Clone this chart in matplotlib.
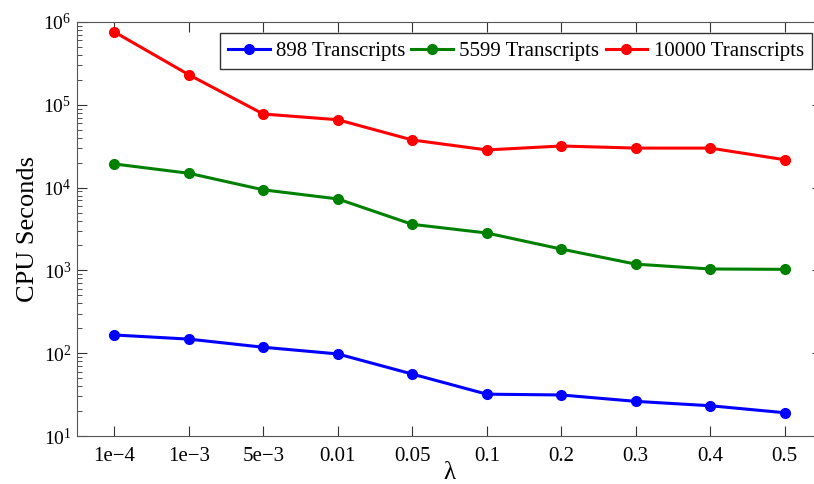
import numpy as np
import matplotlib
matplotlib.use("Agg")
import matplotlib.pyplot as plt
from matplotlib.ticker import LogLocator, NullFormatter

plt.rcParams['font.family'] = ['Liberation Serif', 'DejaVu Serif']
plt.rcParams['mathtext.fontset'] = 'stix'

# lambda values on the x axis (evenly spaced categories)
lambdas = ['1e\u22124', '1e\u22123', '5e\u22123', '0.01', '0.05', '0.1', '0.2', '0.3', '0.4', '0.5']

# CPU seconds for each transcript set
t898 = [166, 148, 118, 98, 56, 32, 31.3, 26.2, 23.2, 19.1]
t5599 = [19300, 14900, 9400, 7300, 3600, 2830, 1810, 1190, 1040, 1030]
t10000 = [760000, 231000, 77400, 66000, 37600, 28500, 31800, 30000, 30000, 21700]

x = np.arange(len(lambdas))

W, H = 814, 484
fig = plt.figure(figsize=(W/100, H/100), dpi=100)
# axes run a little past the right edge of the figure
ax = fig.add_axes([77/W, 1-436/H, (822-77)/W, (436-22)/H])

ax.semilogy(x, t898, '-o', color='#0000ff', lw=2.2, ms=7, label='898 Transcripts')
ax.semilogy(x, t5599, '-o', color='#008000', lw=2.2, ms=7, label='5599 Transcripts')
ax.semilogy(x, t10000, '-o', color='#ff0000', lw=2.2, ms=7, label='10000 Transcripts')

ax.set_ylim(10, 1e6)
ax.set_xlim(-0.5, 9.5)
ax.set_xticks(x)
ax.set_xticklabels(lambdas)
ax.yaxis.set_major_locator(LogLocator(base=10, numticks=10))
ax.yaxis.set_minor_locator(LogLocator(base=10, subs=np.arange(2, 10), numticks=20))
ax.yaxis.set_minor_formatter(NullFormatter())

ax.tick_params(which='both', direction='in', top=True, right=True, colors='#333333')
ax.tick_params(which='major', length=7, labelcolor='black')
ax.tick_params(which='minor', length=3.5)
ax.tick_params(axis='x', labelsize=15, pad=8)
ax.tick_params(axis='y', labelsize=14, pad=4)
for s in ax.spines.values():
    s.set_color('#555555')

ax.set_xlabel('\u03bb', fontsize=18, labelpad=-3)
ax.set_ylabel('CPU Seconds', fontsize=19, labelpad=3)

leg = ax.legend(loc='upper right', bbox_to_anchor=(812/W, 1-33/H), bbox_transform=fig.transFigure,
                ncol=3, fontsize=15, fancybox=False, framealpha=1, borderaxespad=0,
                edgecolor='#333333', handlelength=2.0, columnspacing=0.3, handletextpad=0.3,
                borderpad=0.4)
leg.get_frame().set_linewidth(1.0)

fig.savefig('out.png', dpi=100)
